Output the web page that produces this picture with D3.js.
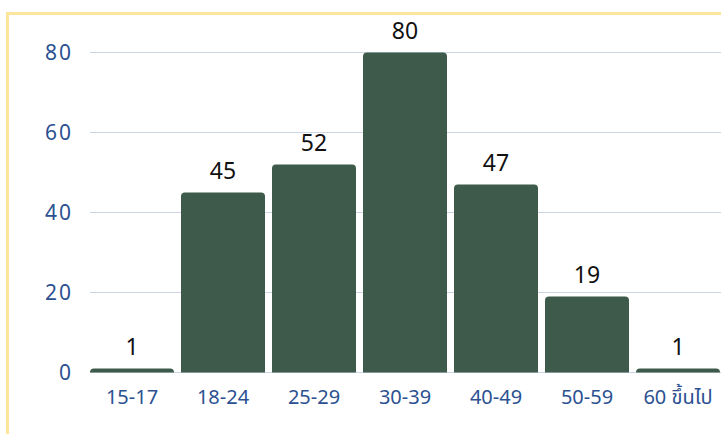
<!DOCTYPE html>
<html><head><meta charset="utf-8">
<script src="https://cdn.jsdelivr.net/npm/d3@7"></script>
<style>body{margin:0;background:#fff;}svg{display:block;}</style>
</head><body>
<svg id="c" width="721" height="434"></svg>
<script>
const categories = ["15-17","18-24","25-29","30-39","40-49","50-59","60 ขึ้นไป"];
const values = [1,45,52,80,47,19,1];
const yTicks = [0,20,40,60,80];

const svg = d3.select("#c");
// yellow frame
svg.append("rect").attr("x",7.5).attr("y",13.5).attr("width",740).attr("height",460)
  .attr("fill","none").attr("stroke","#fde59b").attr("stroke-width",3);

const x = d3.scaleBand().domain(categories).range([86.5,723.5]).paddingInner(0.077).paddingOuter(0.0385);
const y = d3.scaleLinear().domain([0,80]).range([372.5,52.5]);

// gridlines
svg.append("g").selectAll("line").data(yTicks).join("line")
  .attr("x1",90).attr("x2",721).attr("y1",d=>y(d)).attr("y2",d=>y(d))
  .attr("stroke","#ccd6e6").attr("stroke-width",1);

// y axis labels
const yAxis = d3.axisLeft(y).tickValues(yTicks).tickSize(0).tickPadding(0);
const ga = svg.append("g").attr("transform","translate(73,0)").call(yAxis);
ga.select(".domain").remove();
ga.selectAll("text").attr("fill","#2b5191").style("font-family","'Noto Sans',sans-serif")
  .style("font-size","21px").style("letter-spacing","2px");

// bars with rounded top corners
const r = 4;
function barPath(x0,w,yt,yb){
  const rr = Math.min(r,(yb-yt));
  return `M${x0},${yb}V${yt+rr}Q${x0},${yt} ${x0+rr},${yt}H${x0+w-rr}Q${x0+w},${yt} ${x0+w},${yt+rr}V${yb}Z`;
}
svg.append("g").selectAll("path").data(categories).join("path")
  .attr("d",(d,i)=>barPath(x(d),x.bandwidth(),y(values[i]),y(0)))
  .attr("fill","#3d5a4a");

// value labels
svg.append("g").selectAll("text").data(categories).join("text")
  .attr("x",d=>x(d)+x.bandwidth()/2).attr("y",(d,i)=>y(values[i])-14)
  .attr("text-anchor","middle").attr("fill","#111")
  .style("font-family","'Noto Sans',sans-serif").style("font-size","23px")
  .text((d,i)=>values[i]);

// x axis labels
const xAxis = d3.axisBottom(x).tickSize(0).tickPadding(0);
const gx = svg.append("g").attr("transform","translate(0,372)").call(xAxis);
gx.select(".domain").remove();
gx.selectAll("text").attr("dy",null).attr("y",32).attr("fill","#2b5191")
  .style("font-family","'Noto Sans','Noto Sans Thai',sans-serif").style("font-size","20px");
</script>
</body></html>
